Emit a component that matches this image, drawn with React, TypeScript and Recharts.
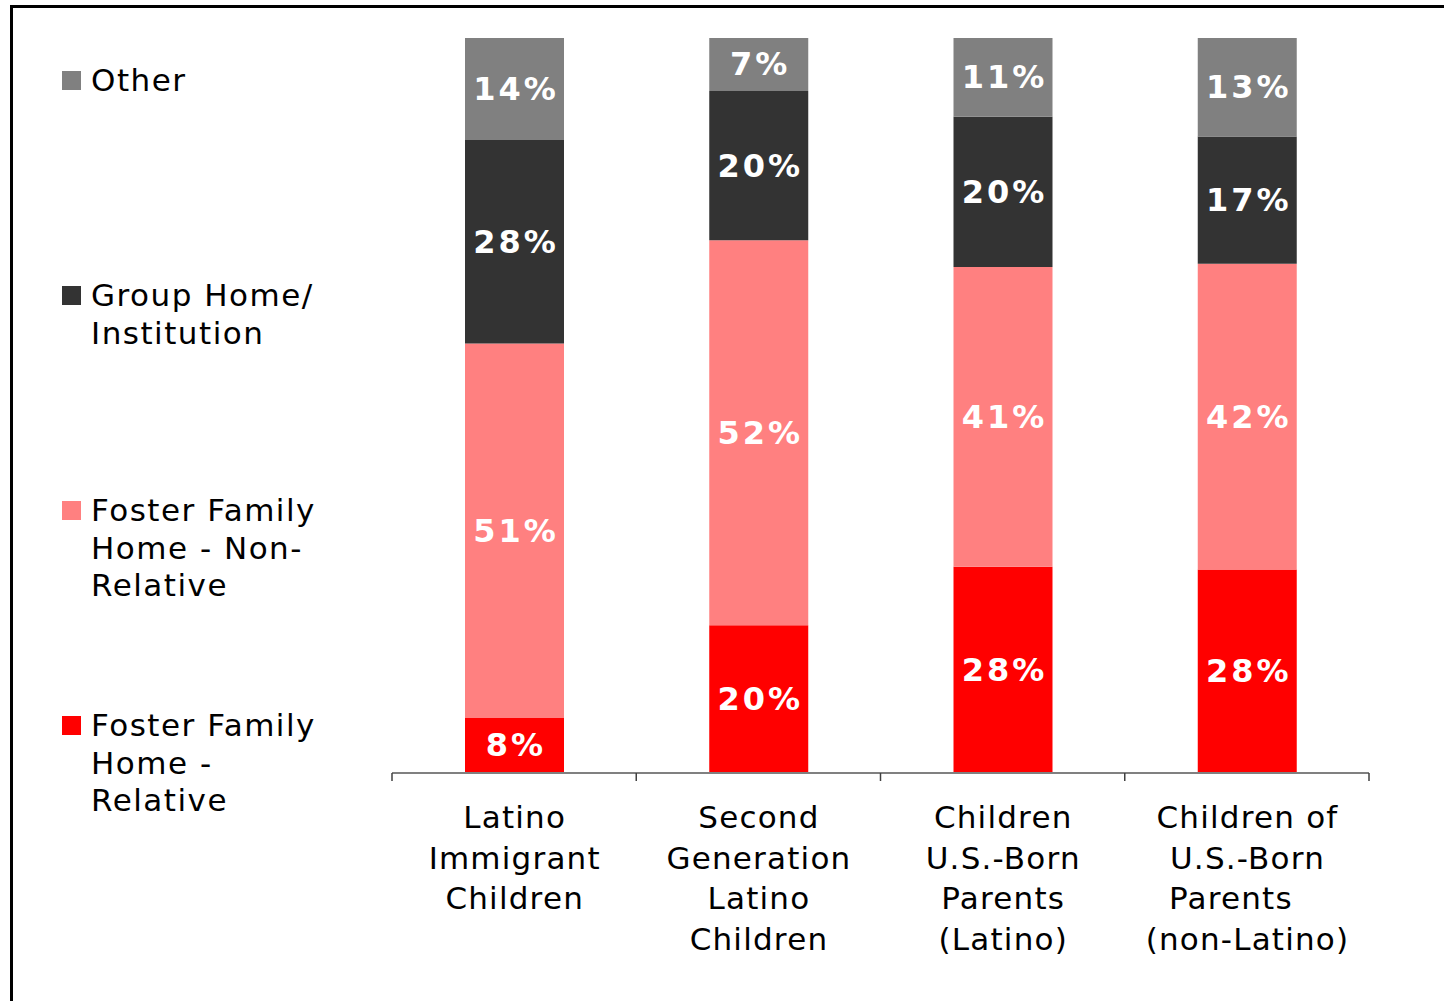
import React from "react"
import { BarChart, Bar, XAxis, YAxis, Legend, LabelList } from "recharts"

// categories (one label per bar, split in lines as drawn under the axis)
const CATEGORIES = [
    "Latino Immigrant Children",
    "Second Generation Latino Children",
    "Children U.S.-Born Parents (Latino)",
    "Children of U.S.-Born Parents (non-Latino)"
]
const CATEGORY_LINES = [
    ["Latino", "Immigrant", "Children"],
    ["Second", "Generation", "Latino", "Children"],
    ["Children", "U.S.-Born", "Parents", "(Latino)"],
    ["Children of", "U.S.-Born", "Parents\u00a0\u00a0\u00a0", "(non-Latino)"]
]

// series values, in percent (stack order bottom -> top); labels show them rounded
const RELATIVE = [7.5, 20.1, 28.0, 27.7]
const NON_RELATIVE = [51.0, 52.4, 40.7, 41.6]
const GROUP_HOME = [27.7, 20.3, 20.4, 17.3]
const OTHER = [13.9, 7.2, 10.7, 13.4]

const SERIES = [
    { key: "relative", values: RELATIVE, color: "#ff0000", lines: ["Foster Family", "Home -", "Relative"] },
    { key: "nonRelative", values: NON_RELATIVE, color: "#ff8080", lines: ["Foster Family", "Home - Non-", "Relative"] },
    { key: "groupHome", values: GROUP_HOME, color: "#333333", lines: ["Group Home/", "Institution"] },
    { key: "other", values: OTHER, color: "#808080", lines: ["Other"] }
]

const data = CATEGORIES.map((name, i) => {
    const row: any = { name }
    SERIES.forEach(s => { row[s.key] = s.values[i] })
    return row
})

const FONT = '"DejaVu Sans", Verdana, sans-serif'

function CategoryTick(props: any) {
    const { x, y, payload, index } = props
    const half = payload && payload.offset ? payload.offset : 122
    const lines = CATEGORY_LINES[index] || [String(payload.value)]
    return (
        <g>
            <line x1={x - half} x2={x - half} y1={y} y2={y + 8} stroke="#404040" strokeWidth={1.5} />
            {index === CATEGORIES.length - 1 && (
                <line x1={x + half} x2={x + half} y1={y} y2={y + 8} stroke="#404040" strokeWidth={1.5} />
            )}
            <text textAnchor="middle" fontSize={31} fontFamily={FONT} fill="#000" letterSpacing={1.2}>
                {lines.map((l, i) => (
                    <tspan key={i} x={x + 0.6} y={y + 55 + i * 40.5}>{l}</tspan>
                ))}
            </text>
        </g>
    )
}

function renderBarLabel(p: any) {
    const vb = p.viewBox && p.viewBox.width !== undefined ? p.viewBox : p
    const cx = vb.x + vb.width / 2
    const cy = vb.y + vb.height / 2
    return (
        <text
            x={cx + 1.5}
            y={cy}
            textAnchor="middle"
            dominantBaseline="central"
            fill="#ffffff"
            fontSize={32}
            fontWeight="bold"
            fontFamily={FONT}
            letterSpacing={3}
        >
            {`${Math.round(p.value)}%`}
        </text>
    )
}

function renderLegend() {
    const items = [...SERIES].reverse()
    return (
        <div style={{ position: "relative", width: 300, height: 760, fontFamily: FONT }}>
            {items.map((s, i) => (
                <div key={s.key} style={{ position: "absolute", left: 0, top: i * 215 }}>
                    <div style={{ position: "absolute", left: 0, top: 1, width: 19, height: 19, background: s.color }} />
                    <div style={{ position: "absolute", left: 29, top: -8, fontSize: 31, lineHeight: "37.5px", letterSpacing: 1.5, color: "#000", whiteSpace: "nowrap" }}>
                        {s.lines.map((l, j) => <div key={j}>{l}</div>)}
                    </div>
                </div>
            ))}
        </div>
    )
}

export default function App() {
    return (
        <div style={{ position: "fixed", left: 0, top: 0, width: 1444, height: 1001, overflow: "hidden", background: "#fff" }}>
            <div style={{ position: "absolute", left: 10, top: 5, width: 1500, height: 1100, border: "3px solid #000" }} />
            <BarChart
                width={1444}
                height={1001}
                data={data}
                stackOffset="expand"
                barSize={99}
                margin={{ top: 38, right: 75, bottom: 28, left: 392 }}
            >
                <XAxis
                    dataKey="name"
                    height={200}
                    interval={0}
                    tickLine={false}
                    tickSize={0}
                    tickMargin={0}
                    axisLine={{ stroke: "#808080", strokeWidth: 2 }}
                    tick={<CategoryTick />}
                />
                <YAxis hide domain={[0, 1]} />
                <Legend
                    layout="vertical"
                    align="center"
                    verticalAlign="middle"
                    wrapperStyle={{ left: 62, top: 70, width: 300, height: 760 }}
                    content={renderLegend}
                />
                {SERIES.map(s => (
                    <Bar key={s.key} dataKey={s.key} name={s.lines.join(" ")} stackId="a" fill={s.color} isAnimationActive={false}>
                        <LabelList dataKey={s.key} content={renderBarLabel} />
                    </Bar>
                ))}
            </BarChart>
        </div>
    )
}
